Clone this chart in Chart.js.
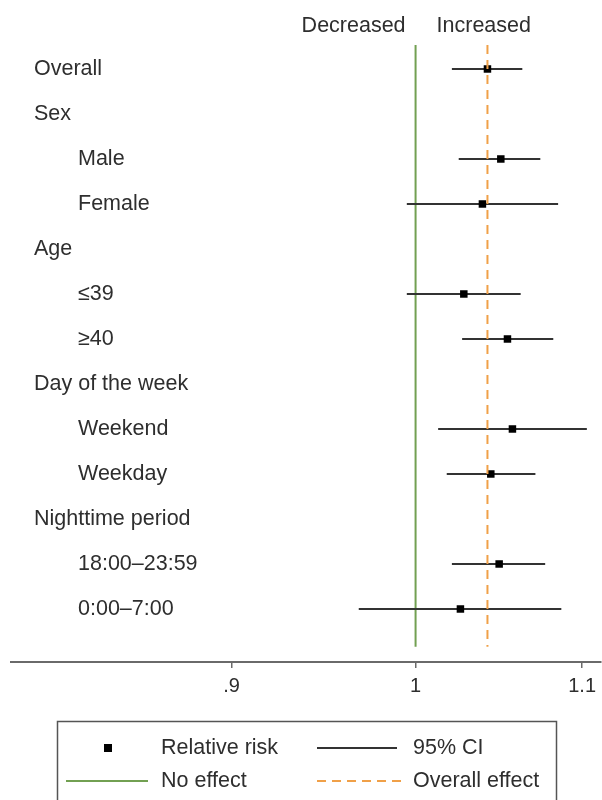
<!DOCTYPE html>
<html>
<head>
<meta charset="utf-8">
<script src="https://cdn.jsdelivr.net/npm/chart.js@4"></script>
<style>
  html, body { margin: 0; padding: 0; background: #fff; }
  #wrap { width: 602px; height: 800px; position: relative; }
</style>
</head>
<body>
<div id="wrap"><canvas id="forestChart"></canvas></div>
<script>
// Forest plot: relative risk with 95% CI by subgroup

const categories = ['Overall', 'Sex', 'Male', 'Female', 'Age', '≤39', '≥40',
    'Day of the week', 'Weekend', 'Weekday', 'Nighttime period', '18:00–23:59', '0:00–7:00'];
const isHeader = [true, true, false, false, true, false, false, true, false, false, true, false, false];
const relRisk = [1.042, null, 1.050, 1.039, null, 1.028, 1.054, null, 1.057, 1.044, null, 1.049, 1.026];
const ciLower = [1.021, null, 1.025, 0.995, null, 0.995, 1.027, null, 1.013, 1.018, null, 1.021, 0.968];
const ciUpper = [1.063, null, 1.074, 1.085, null, 1.062, 1.082, null, 1.103, 1.071, null, 1.077, 1.087];
const noEffect = 1;
const overallEffect = relRisk[0];
const xTickValues = [0.9, 1, 1.1];
const xTickLabels = ['.9', '1', '1.1'];

const colors = {
    text: '#2e2e2e',
    axis: '#6a6a6a',
    ci: '#333333',
    point: '#000000',
    green: '#72a052',
    orange: '#f0a048'
};
const FONT = "'Liberation Sans', Arial, Helvetica, sans-serif";

Chart.defaults.font.family = FONT;
Chart.defaults.color = colors.text;

// y range (row index), rows drawn top to bottom
const yMin = -0.533;
const yMax = 13.178;
const lineTop = yMin;
const lineBottom = 12.84;

// datasets: index 0 drawn on top
const datasets = [];

datasets.push({
    label: 'Overall effect',
    data: [{ x: overallEffect, y: lineTop }, { x: overallEffect, y: lineBottom }],
    borderColor: colors.orange,
    borderWidth: 2,
    borderDash: [9, 6],
    pointRadius: 0
});

datasets.push({
    type: 'scatter',
    label: 'Relative risk',
    data: relRisk.map((v, i) => v === null ? null : { x: v, y: i }).filter(d => d),
    pointStyle: 'rect',
    pointRadius: 5.3,
    pointBackgroundColor: colors.point,
    pointBorderWidth: 0,
    showLine: false
});

relRisk.forEach((v, i) => {
    if (v === null) return;
    datasets.push({
        label: '95% CI ' + categories[i],
        data: [{ x: ciLower[i], y: i }, { x: ciUpper[i], y: i }],
        borderColor: colors.ci,
        borderWidth: 2,
        pointRadius: 0
    });
});

datasets.push({
    label: 'No effect',
    data: [{ x: noEffect, y: lineTop }, { x: noEffect, y: lineBottom }],
    borderColor: colors.green,
    borderWidth: 2,
    pointRadius: 0
});

// texts: row labels, direction labels and legend box
const textPlugin = {
    id: 'forestText',
    afterDraw(chart) {
        const ctx = chart.ctx;
        const xs = chart.scales.x;
        const ys = chart.scales.y;
        const area = chart.chartArea;
        ctx.save();
        ctx.fillStyle = colors.text;
        ctx.font = '21.5px ' + FONT;
        ctx.textBaseline = 'middle';
        ctx.textAlign = 'left';

        categories.forEach((c, i) => {
            const indent = isHeader[i] ? 23 : 67;
            ctx.fillText(c, area.left + indent, ys.getPixelForValue(i));
        });

        // Decreased / Increased
        const x1 = xs.getPixelForValue(noEffect);
        ctx.textAlign = 'right';
        ctx.fillText('Decreased', x1 - 10, 26);
        ctx.textAlign = 'left';
        ctx.fillText('Increased', x1 + 21, 26);

        // legend box
        ctx.strokeStyle = '#555';
        ctx.lineWidth = 1.5;
        ctx.strokeRect(57.5, 721.5, 499, 100);

        const r1 = 748, r2 = 781;
        ctx.fillStyle = colors.point;
        ctx.fillRect(104, r1 - 4, 8, 8);

        ctx.lineWidth = 2;
        ctx.strokeStyle = colors.ci;
        ctx.beginPath(); ctx.moveTo(317, r1); ctx.lineTo(397, r1); ctx.stroke();

        ctx.strokeStyle = colors.green;
        ctx.beginPath(); ctx.moveTo(66, r2); ctx.lineTo(148, r2); ctx.stroke();

        ctx.strokeStyle = colors.orange;
        ctx.setLineDash([9, 6]);
        ctx.beginPath(); ctx.moveTo(317, r2); ctx.lineTo(401, r2); ctx.stroke();
        ctx.setLineDash([]);

        ctx.fillStyle = colors.text;
        ctx.font = '21.5px ' + FONT;
        ctx.fillText('Relative risk', 161, r1);
        ctx.fillText('95% CI', 413, r1);
        ctx.fillText('No effect', 161, r2);
        ctx.fillText('Overall effect', 413, r2);
        ctx.restore();
    }
};

const ctx = document.getElementById('forestChart').getContext('2d');
new Chart(ctx, {
    type: 'line',
    data: { datasets: datasets },
    options: {
        responsive: true,
        maintainAspectRatio: false,
        animation: false,
        layout: { autoPadding: false, padding: { left: 11, right: 0, top: 45, bottom: 96 } },
        plugins: {
            legend: { display: false },
            tooltip: { enabled: false }
        },
        scales: {
            x: {
                type: 'logarithmic',
                min: 0.7933,
                max: 1.112,
                bounds: 'data',
                grid: {
                    display: true,
                    drawOnChartArea: false,
                    drawTicks: true,
                    tickLength: 6,
                    color: colors.axis,
                    lineWidth: 1.5
                },
                border: { display: true, color: colors.axis, width: 2 },
                ticks: {
                    autoSkip: false,
                    maxRotation: 0,
                    padding: 6,
                    color: colors.text,
                    font: { size: 20 },
                    callback: function(value, index) {
                        return xTickLabels[index];
                    }
                },
                afterBuildTicks: function(scale) {
                    scale.ticks = xTickValues.map(v => ({ value: v }));
                }
            },
            y: {
                type: 'linear',
                display: false,
                reverse: true,
                min: yMin,
                max: yMax
            }
        }
    },
    plugins: [textPlugin]
});
</script>
</body>
</html>
